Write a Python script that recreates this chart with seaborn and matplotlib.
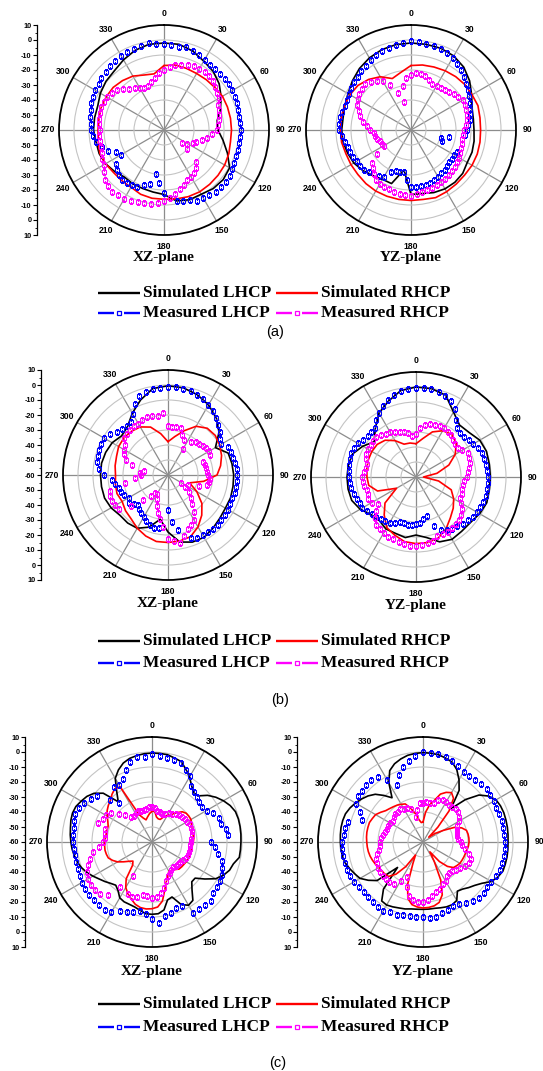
import numpy as np
import pandas as pd
import matplotlib
matplotlib.use("Agg")
import matplotlib.pyplot as plt
import seaborn as sns
from matplotlib.lines import Line2D

sns.set_theme(style="white")
plt.rcParams['font.family'] = ['Liberation Sans', 'DejaVu Sans']
for k in ['text.color', 'xtick.color', 'ytick.color', 'axes.labelcolor']:
    plt.rcParams[k] = 'black'

# ---------------- data (dB), angles in degrees, clockwise from top ----------------
angle_ticks = np.arange(0, 360, 30)

# (a) XZ
a_xz_sim_l = [-2,-2,-4,-7,-9,-12,-16,-20,-24,-24,-20,-15,
              -9.5,-8.5,-9,-10.5,-10.5,-12,-17,-18,-18.5,-18.5,-19,-17,
              -15,-14,-14,-13,-13,-13,-11,-9.5,-8.5,-6,-3.5,-2]
a_xz_sim_r = [-17,-16,-16.3,-16.5,-16.2,-15.8,-15,-15,-15,-15,-15,-14,
              -13.3,-13,-12.7,-12.4,-12.7,-13.3,-13.8,-13.8,-14.4,-16,-16,-16,
              -15,-14.5,-15.5,-16,-16,-15.5,-15.6,-15.8,-17,-18.5,-21,-22]
a_xz_meas_l = [-2.5,-3,-3.5,-3,-4,-5,-6,-6.7,-6.7,-7,-7,-6.7,
               -7.3,-8,-8.2,-8.6,-9,-9,-9,-9,-9.3,-9,-9,-8.2,
               -7.8,-6.5,-6,-6,-6,-7.3,-7.6,-8,-10,-11,-12,-14.6,
               -17.8,-24.4,-30,-23,-21,-18,-17.3,-17,-16.2,-17.8,-19,-21,
               -27,-25,-20,-17,-14,-12.2,-11,-11,-10,-9.6,-8.2,-7.8,
               -7.1,-6.9,-5.6,-5.3,-4.4,-3.6,-3,-2.4,-2.2,-1.8,-1.3,-2.2]
a_xz_meas_r = [-20,-17.8,-16.2,-15,-13.8,-13.1,-13.1,-12.6,-13.1,-14,-15.3,-16.7,
               -17.8,-20,-21,-22,-23,-24,-25,-28,-31,-34,-37,-39,
               -42,-45,-40,-30,-27,-25,-24,-23,-21,-19,-17,-14.5,
               -12.5,-11,-9.8,-9.3,-8.7,-7.5,-7.1,-6.7,-6.4,-6.9,-8.4,-11,
               -13.8,-14.6,-15.8,-16.2,-16.4,-16.8,-17,-16.5,-16,-15.5,-15.5,-15.8,
               -16.5,-17.5,-19,-21,-24,-26,-28,-29,-29,-27,-25,-22]
# (a) YZ
a_yz_sim_l = [-2,-2,-2,-3,-5.3,-9,-13.3,-16.7,-17.8,-18,-17.3,-16.7,
              -16.7,-15,-14.5,-14.7,-15.6,-17,-17,-33,-22,-22,-20.4,-18,
              -16,-15,-14,-13.8,-14,-13,-11.5,-9,-6.5,-4.5,-3,-2.2]
a_yz_sim_r = [-17,-16,-15.3,-14.4,-13.6,-13,-13,-12.5,-13.3,-13.6,-13.3,-13,
              -13,-13.3,-13,-12.5,-12,-13,-13,-13,-13,-13,-13.3,-13.8,
              -13.8,-13.8,-13,-13,-12.7,-12.7,-13,-13.8,-16,-19,-23.5,-21]
a_yz_meas_l = [-0.7,-1,-1.5,-1.8,-2.2,-3.6,-4.4,-6,-8,-10,-12,-13.6,
               -15,-16.9,-18.4,-19,-20,-21.6,-23,-24,-34,-39,-38,-26,
               -26.7,-26.7,-26.7,-26,-25,-24.7,-23.5,-23,-22.5,-21.8,-22,-22,
               -21.8,-26.7,-31.5,-31,-31,-29,-24,-22.7,-21.8,-20,-19,-18.2,
               -18.2,-17.5,-17,-16.4,-15,-13.5,-12,-11.6,-12,-12.4,-13.3,-12.7,
               -12.2,-11,-10.4,-9.6,-8.4,-7.6,-6.4,-5,-4.2,-3.1,-2.2,-1.5]
a_yz_meas_r = [-23,-22,-22,-22.7,-24.4,-26.4,-26,-25.5,-25,-24.2,-22.5,-21.8,
               -20.2,-20.5,-20.8,-21.5,-22.2,-23.5,-24.5,-25.2,-25.5,-25.1,-24.4,-23.8,
               -23.1,-22.5,-22,-21.1,-21,-20.5,-20,-19.5,-19.1,-18.5,-18,-17.5,
               -16,-16.4,-16.7,-17.3,-17.8,-18,-18.7,-19.5,-21.8,-24,-26,-32,
               -39,-38.5,-38,-36.5,-35.5,-35,-32.7,-30.5,-27.8,-25,-23,-20.5,
               -19,-18,-17.3,-17,-18.4,-20,-22.5,-27,-34,-41,-30,-25]
# (b) XZ
b_xz_sim_l = [-0.5,-1,-3,-6,-10,-15.6,-23.5,-17.3,-16.7,-16.2,-16,-15.6,
              -15.8,-15,-13.5,-12,-12.4,-14.6,-22,-30,-23,-19,-18.2,-18.2,
              -16.2,-15,-15,-15,-15,-15.8,-17,-19.5,-18,-12.4,-6.7,-1.5]
b_xz_sim_r = [-37.8,-34,-28.6,-22.5,-19.3,-18.9,-20.2,-22,-24.4,-27.3,-35.8,-44.7,
              -37.8,-30.5,-25,-20,-16.2,-15.3,-15,-15,-16.7,-19,-21.8,-23,
              -24.7,-23.8,-24.4,-25,-24.2,-23.5,-22,-21.6,-22,-23,-26,-32]
b_xz_meas_l = [-1,-1,-1.5,-2,-3,-4,-6,-8,-10,-12.5,-15,-18,
               -19,-16,-15.5,-15,-14.5,-14,-14,-14,-14,-14,-14.5,-14.5,
               -14,-14,-13.5,-13,-13,-13.5,-13.5,-13.8,-15,-18,-22.6,-28.7,
               -36.7,-25.3,-23.8,-23.5,-24.5,-26,-28,-29,-30,-32,-30,-28,
               -30,-28,-27,-26,-24,-22.4,-17,-14,-12,-11.6,-11.2,-11,
               -11,-12.4,-15.3,-17,-17,-16.7,-13,-8,-3.6,-2.7,-2,-1.5]
b_xz_meas_r = [-27,-27.6,-27.5,-27.3,-31.8,-34,-40,-33,-31.3,-30.5,-29.8,-29,
               -28.4,-28.8,-35,-34.5,-34,-34,-33,-31.8,-32,-33,-38,-45,
               -50,-46,-42,-38,-34.7,-30,-25.5,-23,-21.6,-18,-14,-15.5,
               -17.3,-25,-30,-34,-38,-42,-45,-45,-42,-36,-28,-20,
               -19.5,-19,-18.5,-20,-31,-38,-42,-41.3,-43.5,-35,-30,-27.6,
               -26,-25,-21.8,-21,-20.5,-20.4,-20.4,-19.3,-19,-19.3,-20,-18.7]
# (b) YZ
b_yz_sim_l = [0,-0.2,-2,-10,-14.8,-13.8,-10.9,-10,-10.4,-10.4,-10.4,-9.8,
              -11,-12.7,-12.7,-12,-14,-19,-21.3,-19,-20,-20,-22,-21,
              -17,-14.4,-14,-14,-14.2,-15,-19,-23.5,-17.8,-10.7,-6.2,-1.5]
b_yz_sim_r = [-37.8,-34,-28,-24.4,-22.9,-25,-29.8,-36.7,-45.8,-55,-44.7,-35,
              -31,-27.6,-24.4,-20,-16.7,-15.6,-15.6,-16.2,-18.7,-21,-27,-33,
              -45,-32.7,-28,-27.3,-26.7,-26.2,-26,-26.2,-28,-32,-36.7,-37]
b_yz_meas_l = [-0.4,-0.3,-0.7,-1.2,-2.5,-4,-8,-14,-17.5,-18.5,-18,-17,
               -15.8,-14.2,-13.3,-12.8,-12.7,-12.4,-12.2,-12,-12.2,-12,-12.2,-12.7,
               -13.2,-13.7,-15,-16,-17,-18,-19.3,-21,-25.3,-32.8,-31.5,-29.5,
               -28.4,-28.2,-27.8,-28,-28.4,-26.5,-24.8,-24,-23.4,-22.2,-21.5,-20.2,
               -18.7,-18.7,-18,-17,-16.1,-15.8,-15.1,-15,-14.6,-14.2,-13.9,-14.3,
               -15.3,-16.5,-17.8,-18,-17,-13.5,-10.5,-7.8,-5.5,-3.5,-2.1,-1]
b_yz_meas_r = [-31,-27,-25,-23.6,-23,-22.3,-22.3,-23,-23.5,-25,-26,-26,
               -24.5,-22,-22.2,-23,-23.8,-25,-26,-28,-28.4,-28,-27.4,-27.3,
               -25.5,-22.5,-20.5,-19.5,-18.8,-18.5,-17.7,-18,-18.2,-16,-15.1,-14.5,
               -14,-13.8,-14.4,-15.2,-15.8,-16.2,-17,-17.8,-18.3,-21,-25,-29,
               -26,-24.8,-26,-26.5,-25,-24.2,-24,-25.5,-26.2,-26,-24.5,-23.3,
               -23,-23,-22.8,-22.7,-23.3,-24.7,-25.6,-26.9,-28,-28.7,-30,-32.5]
# (c) XZ
c_xz_sim_l = [-0.7,-0.7,-0.9,-2,-3,-6.5,-10,-14,-17,-16.5,-11.6,-8,
              -5,-2.5,-0.8,-0.4,-0.4,-0.5,-0.7,-0.8,-0.9,-3.8,-5,-7.5,
              -11,-17,-22.5,-22.5,-18.5,-12.5,-11.3,-14,-21,-20,-14,-12,
              -11.8,-12,-13.8,-15.2,-15.8,-16,-17,-20.5,-22.4,-21,-19,-17,
              -14.5,-12,-10,-8.4,-7.4,-6.5,-5.9,-5.3,-4.8,-4,-3.6,-4,
              -5.5,-7,-9.5,-14,-25,-19,-11,-7,-4,-2.3,-1.5,-0.9]
c_xz_sim_r = [-39.6,-39.3,-43,-44,-44,-41.5,-39.5,-37.5,-34.5,-31.5,-30.2,-30,
              -30,-31,-31.8,-32.4,-32.2,-32,-32.5,-33,-33,-33.2,-33.3,-33.4,
              -33.7,-34,-34.2,-34.5,-36,-37,-37.5,-35,-32,-27,-20,-16.5,
              -15.5,-15.2,-15.6,-17,-19.5,-22,-25,-30,-40,-42,-40,-37,
              -33.5,-31,-29,-28.5,-28.2,-28.3,-28.4,-28.8,-29,-29,-28.9,-27.5,
              -25.5,-23.5,-22,-20.8,-18.5,-16.7,-17.5,-40,-43,-44.7,-43,-41]
c_xz_meas_l = [-1.3,-2.2,-2.8,-3.2,-4,-7,-9,-14.5,-16.5,-18,-19,-19,
               -18,-15,-12.8,-12.5,-10,-9,-21,-18,-15,-11.5,-10.2,-8.5,
               -7.5,-7.3,-7,-4.5,-5,-5.3,-5.1,-13,-13.3,-11,-10,-5.5,
               -9,-12,-13,-11.5,-10.5,-9,-6,-4.8,-5.2,-5.3,-5.3,-5.2,
               -5.8,-7,-7.2,-7.8,-8.2,-8,-7.4,-7.3,-7.1,-6.2,-5.6,-6.5,
               -8,-10.5,-12.5,-20,-26,-15.6,-16,-14,-9,-4.5,-2.7,-3.2]
c_xz_meas_r = [-36.5,-37.3,-39,-39,-40,-39.5,-38,-37,-35.5,-35,-34,-33.2,
               -32.9,-32.2,-32,-32.2,-32.9,-33.8,-34.3,-34.4,-34.3,-34.3,-34.8,-35.3,
               -36,-37,-37.3,-37.8,-38.2,-37.5,-36,-34.8,-32,-28,-25.5,-23.3,
               -23,-23.8,-24.2,-22.2,-21.3,-22,-34,-23,-14,-11,-10.2,-10.5,
               -10.9,-12,-14.5,-17,-20,-24.5,-27,-28.5,-28,-27.5,-22,-23.6,
               -24.5,-26.5,-31,-35,-38.4,-39,-38,-37.3,-38,-38.2,-37.6,-36.5]
# (c) YZ
c_yz_sim_l = [-0.4,-0.6,-0.9,-2,-3.3,-6.7,-12,-18,-31,-20,-11.3,-6.6,
              -3.8,-3,-2.7,-2.8,-2.9,-3.1,-3.3,-3.2,-3.1,-3.2,-3.3,-4.9,
              -7.3,-12,-15,-17,-19,-20,-15,-13.9,-14,-14.6,-15.1,-15.1,
              -15.1,-15,-14.7,-13.8,-13.2,-12.3,-11.5,-12,-19,-36,-20,-15.5,
              -11.5,-9.8,-8,-6.3,-5.5,-5,-4.9,-4.7,-4.5,-4.6,-5,-6.3,
              -8,-10,-12.2,-15,-19.5,-24,-14.5,-7.5,-4.5,-2.7,-1.3,-0.7]
c_yz_sim_r = [-46.7,-40,-35,-31.5,-26,-23.5,-22,-24.5,-33,-46,-55,-50,
              -44.7,-37,-32.5,-30,-29.5,-29.3,-29.3,-29.6,-30.2,-30.7,-31,-31.3,
              -31.6,-32.5,-33.5,-37,-43,-52,-45,-32,-22.5,-18.3,-16.8,-16.2,
              -16,-16.5,-17.6,-21,-30,-44,-50,-40,-32,-27.5,-26.8,-26.5,
              -26,-25,-24.2,-23.5,-23,-22.7,-22.5,-22.2,-22,-22,-22,-22.8,
              -23.5,-25.5,-27.5,-28.5,-29.3,-30,-31,-32,-36,-40.5,-45,-47]
c_yz_meas_l = [-0.1,-0.2,-0.6,-1.5,-2.5,-4.3,-5.8,-6.1,-6.2,-5.7,-4.6,-5.2,
               -5.7,-6,-6,-5.4,-5.7,-5.8,-5.2,-5,-5.4,-5.3,-5.1,-6,
               -7.3,-7.8,-7.3,-7.2,-8.5,-10.3,-12.3,-12.6,-11.6,-10.8,-8.9,-9.3,
               -10,-9.8,-9.8,-9.4,-8.4,-8.2,-7.2,-7.5,-8,-8,-8.6,-8.2,
               -7.1,-6.5,-6.1,-6,-6,-6,-6.2,-6.9,-7.3,-8.5,-17,-13.3,
               -8.8,-7.1,-6.6,-6.6,-6.4,-7.5,-12.5,-18.2,-12.4,-8.5,-5,-2.5]
c_yz_meas_r = [-34,-33.5,-33.3,-32.8,-30,-29,-29,-29.7,-29.5,-29.3,-29.4,-30.5,
               -32.5,-35,-36.2,-36.5,-36.7,-36.7,-35,-33.7,-31.5,-28.5,-26,-26.3,
               -27.5,-29.5,-31.2,-32.5,-33,-32,-30,-28.8,-27,-25.6,-23.6,-21,
               -20,-19.8,-20.8,-22.7,-28,-34,-30,-26,-24.8,-24.7,-24.8,-25,
               -25.7,-26.5,-27,-28.5,-30,-31,-31.6,-32.2,-32.6,-33.5,-34.3,-34.2,
               -34.8,-35.3,-34.5,-33.8,-33.7,-33.5,-34.3,-35.3,-36.5,-42.7,-38,-34]

series_labels = ["Simulated LHCP", "Simulated RHCP", "Measured LHCP", "Measured RHCP"]
captions = ["(a)", "(b)", "(c)"]

C_SIM_L, C_SIM_R, C_MEAS_L, C_MEAS_R = "black", "#ff0000", "#0000ff", "#ff00ff"

# ---------------- layout (pixels) ----------------
W, H = 543, 1071
R = 105
fig = plt.figure(figsize=(W / 100, H / 100), dpi=100)

panels = [
    ((a_xz_sim_l, a_xz_sim_r, a_xz_meas_l, a_xz_meas_r), 164, 130, 37, 258, "XZ-plane"),
    ((a_yz_sim_l, a_yz_sim_r, a_yz_meas_l, a_yz_meas_r), 411, 130, None, 258, "YZ-plane"),
    ((b_xz_sim_l, b_xz_sim_r, b_xz_meas_l, b_xz_meas_r), 168, 475, 41, 603, "XZ-plane"),
    ((b_yz_sim_l, b_yz_sim_r, b_yz_meas_l, b_yz_meas_r), 416, 477, None, 605, "YZ-plane"),
    ((c_xz_sim_l, c_xz_sim_r, c_xz_meas_l, c_xz_meas_r), 152, 842, 25, 972, "XZ-plane"),
    ((c_yz_sim_l, c_yz_sim_r, c_yz_meas_l, c_yz_meas_r), 423, 842, 297, 971, "YZ-plane"),
]


def to_frame(vals, closed):
    vals = list(vals)
    deg = np.linspace(0, 360, len(vals), endpoint=False)
    if closed:
        deg = np.append(deg, 360.0)
        vals = vals + [vals[0]]
    return pd.DataFrame({"theta": np.deg2rad(deg), "dB": vals})


def draw_sim(ax, vals, color):
    sns.lineplot(data=to_frame(vals, True), x="theta", y="dB", ax=ax, color=color,
                 lw=1.2, sort=False, estimator=None)


def draw_meas(ax, vals, color):
    sns.lineplot(data=to_frame(vals, False), x="theta", y="dB", ax=ax, color=color,
                 linestyle="none", marker="s", markersize=3.0, markerfacecolor="none",
                 markeredgecolor=color, markeredgewidth=0.75, sort=False, estimator=None)


def left_axis(x, cy):
    ax = fig.add_axes([x / W, 1 - (cy + R) / H, 0.0005, 2 * R / H])
    ax.set_ylim(0, 140)
    for s in ["top", "right", "bottom"]:
        ax.spines[s].set_visible(False)
    ax.spines["left"].set_color("black")
    ax.spines["left"].set_linewidth(0.9)
    ax.set_xticks([])
    ticks = np.arange(0, 141, 10)
    ax.set_yticks(ticks)
    ax.set_yticklabels([str(int(t - 130)) if t >= 70 else str(int(10 - t)) for t in ticks],
                       fontsize=5.2, fontweight="bold")
    ax.set_yticks(np.arange(5, 140, 10), minor=True)
    ax.tick_params(axis="y", which="major", left=True, direction="out", length=3,
                   width=0.8, pad=1)
    ax.tick_params(axis="y", which="minor", left=True, direction="out", length=1.6, width=0.6)
    ax.patch.set_visible(False)


for (sim_l, sim_r, meas_l, meas_r), cx, cy, axx, ty, title in panels:
    ax = fig.add_axes([(cx - R) / W, 1 - (cy + R) / H, 2 * R / W, 2 * R / H], projection="polar")
    draw_sim(ax, sim_l, C_SIM_L)
    draw_sim(ax, sim_r, C_SIM_R)
    draw_meas(ax, meas_l, C_MEAS_L)
    draw_meas(ax, meas_r, C_MEAS_R)
    ax.set_theta_zero_location("N")
    ax.set_theta_direction(-1)
    ax.set_ylim(-60, 10)
    ax.set_yticks([-50, -40, -30, -20, -10, 0])
    ax.set_yticklabels([])
    ax.set_xticks(np.deg2rad(angle_ticks))
    ax.set_xticklabels([str(a) for a in angle_ticks], fontsize=6.2, fontweight="bold")
    ax.tick_params(axis="x", length=0, pad=1.2)
    ax.tick_params(axis="y", length=0)
    ax.yaxis.grid(True, color="#c4c4c4", lw=0.8)
    ax.xaxis.grid(True, color="#8c8c8c", lw=0.9)
    ax.set_axisbelow(True)
    ax.spines["polar"].set_color("black")
    ax.spines["polar"].set_linewidth(1.3)
    ax.set_xlabel("")
    ax.set_ylabel("")
    fig.text(cx / W, 1 - ty / H, title, ha="center", va="center",
             fontsize=11, fontweight="bold", family=["Liberation Serif", "DejaVu Serif"])
    if axx is not None:
        left_axis(axx, cy)

# ---------------- legends (drawn in figure pixels) and captions ----------------
def fx(px):
    return px / W


def fy(py):
    return 1 - py / H


legend_rows = [(293, 313), (641, 663), (1004, 1027)]
caption_pos = [(275, 332), (280, 700), (278, 1063)]
col_x = [98, 276]
entries = [
    (0, 0, C_SIM_L, False), (0, 1, C_SIM_R, False),
    (1, 0, C_MEAS_L, True), (1, 1, C_MEAS_R, True),
]
for (y1, y2), cap, (capx, capy) in zip(legend_rows, captions, caption_pos):
    ys = (y1, y2)
    for (row, col, color, meas), label in zip(entries, series_labels):
        x0 = col_x[col]
        y = ys[row]
        if meas:
            fig.add_artist(Line2D([fx(x0), fx(x0 + 16)], [fy(y), fy(y)], color=color, lw=1.7,
                                  solid_capstyle="butt"))
            fig.add_artist(Line2D([fx(x0 + 26), fx(x0 + 42)], [fy(y), fy(y)], color=color, lw=1.7,
                                  solid_capstyle="butt"))
            fig.add_artist(Line2D([fx(x0 + 21)], [fy(y)], linestyle="none", marker="s", ms=3.2,
                                  mfc="white", mec=color, mew=0.9))
        else:
            fig.add_artist(Line2D([fx(x0), fx(x0 + 42)], [fy(y), fy(y)], color=color, lw=1.7,
                                  solid_capstyle="butt"))
        fig.text(fx(x0 + 45), fy(y), label, ha="left", va="center", fontsize=12.5,
                 fontweight="bold", family=["Liberation Serif", "DejaVu Serif"])
    fig.text(fx(capx), fy(capy), cap, ha="center", va="center", fontsize=10.5)

fig.savefig("out.png", dpi=100, facecolor="white")
